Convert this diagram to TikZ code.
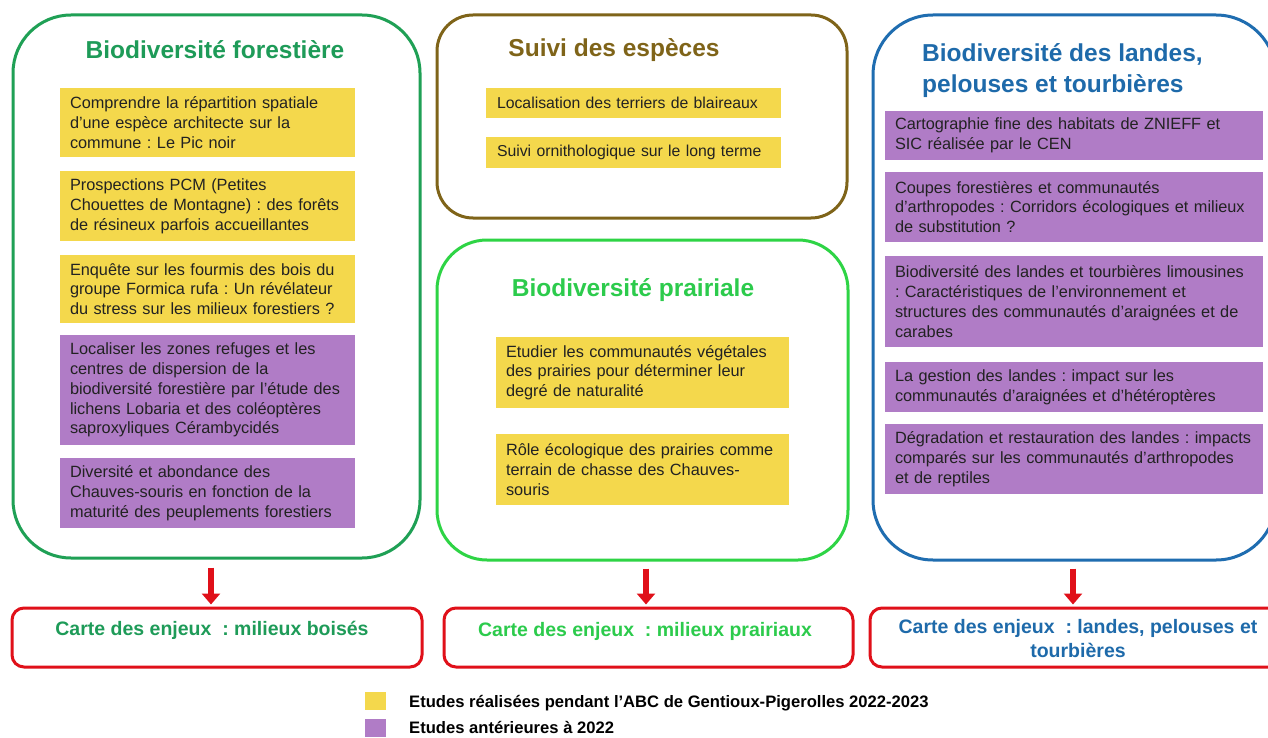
\documentclass[tikz,border=0pt]{standalone}
\usepackage{fontspec}
\setmainfont{Liberation Sans}
\usetikzlibrary{arrows.meta}
\frenchspacing
\definecolor{gforest}{HTML}{1FA055}
\definecolor{gforestT}{HTML}{1E9B58}
\definecolor{brownb}{HTML}{7F6419}
\definecolor{gbright}{HTML}{2ED445}
\definecolor{gbrightT}{HTML}{2CCB4C}
\definecolor{blueb}{HTML}{1F6DB0}
\definecolor{blueT}{HTML}{1E6AAA}
\definecolor{redb}{HTML}{E01019}
\definecolor{ybox}{HTML}{F4D84C}
\definecolor{pbox}{HTML}{B07CC6}
\definecolor{txt}{HTML}{222222}
\tikzset{
  bigbox/.style={draw=#1, line width=3pt, inner sep=0pt},
  item/.style={inner xsep=10pt, inner ysep=0pt, align=left, text=txt,
    font=\fontsize{16.3}{19.8}\selectfont},
  yel/.style={item, fill=ybox},
  pur/.style={item, fill=pbox},
  ttl/.style={font=\bfseries\fontsize{24.5}{31}\selectfont, inner sep=0pt},
  carte/.style={draw=redb, line width=3pt, rounded corners=12pt, inner sep=0pt},
  cartetxt/.style={font=\bfseries\fontsize{19.5}{24}\selectfont, inner sep=0pt, align=center},
  redarr/.style={draw=redb, line width=6pt, -{Triangle[length=11pt,width=18pt]}},
  legtxt/.style={font=\bfseries\fontsize{16.6}{19}\selectfont, inner sep=0pt, text=black},
}
\begin{document}
\begin{tikzpicture}[x=1pt,y=-1pt]
\useasboundingbox (0,0) rectangle (1268,738);
\clip (0,0) rectangle (1268,738);
\fill[white] (0,0) rectangle (1268,738);

% big boxes
\node[bigbox=gforest, rounded corners=58pt, minimum width=407, minimum height=543] (L) at (216.5,286.5) {};
\node[bigbox=brownb, rounded corners=36pt, minimum width=410, minimum height=203] (M1) at (642,116.5) {};
\node[bigbox=gbright, rounded corners=50pt, minimum width=411, minimum height=320] (M2) at (642.5,400) {};
\node[bigbox=blueb, rounded corners=60pt, minimum width=403, minimum height=545] (R) at (1074.5,287.5) {};

% titles
\node[ttl, text=gforestT, anchor=base] (tL) at (215,59) {Biodiversité forestière};
\node[ttl, text=brownb, anchor=base] (tM1) at (614,57) {Suivi des espèces};
\node[ttl, text=gbrightT, anchor=base] (tM2) at (633,296) {Biodiversité prairiale};
\node[ttl, text=blueT, anchor=west, align=left] (tR) at (922,71) {Biodiversité des landes,\\pelouses et tourbières};

% left column
\node[yel, text width=275, minimum height=69] (f1) at (207.5,122.5) {Comprendre la répartition spatiale\\d’une espèce architecte sur la\\commune : Le Pic noir};
\node[yel, text width=275, minimum height=70] (f2) at (207.5,206) {Prospections PCM (Petites\\Chouettes de Montagne) : des forêts\\de résineux parfois accueillantes};
\node[yel, text width=275, minimum height=68] (f3) at (207.5,289) {Enquête sur les fourmis des bois du\\groupe Formica rufa : Un révélateur\\du stress sur les milieux forestiers ?};
\node[pur, text width=275, minimum height=110] (f4) at (207.5,390) {Localiser les zones refuges et les\\centres de dispersion de la\\biodiversité forestière par l’étude des\\lichens Lobaria et des coléoptères\\saproxyliques Cérambycidés};
\node[pur, text width=275, minimum height=70] (f5) at (207.5,493) {Diversité et abondance des\\Chauves-souris en fonction de la\\maturité des peuplements forestiers};

% middle top
\node[yel, inner xsep=11pt, text width=273, minimum height=30, font=\fontsize{15.8}{19}\selectfont] (s1) at (633.5,103) {Localisation des terriers de blaireaux};
\node[yel, inner xsep=11pt, text width=273, minimum height=31, font=\fontsize{15.8}{19}\selectfont] (s2) at (633.5,152.5) {Suivi ornithologique sur le long terme};

% middle bottom
\node[yel, text width=273, minimum height=71] (p1) at (642.5,372.5) {Etudier les communautés végétales\\des prairies pour déterminer leur\\degré de naturalité};
\node[yel, text width=273, minimum height=71] (p2) at (642.5,469.5) {Rôle écologique des prairies comme\\terrain de chasse des Chauves-\\souris};

% right column
\node[pur, text width=358, minimum height=49] (r1) at (1074,135.5) {Cartographie fine des habitats de ZNIEFF et\\SIC réalisée par le CEN};
\node[pur, text width=358, minimum height=70] (r2) at (1074,207) {Coupes forestières et communautés\\d’arthropodes : Corridors écologiques et milieux\\de substitution ?};
\node[pur, text width=358, minimum height=91] (r3) at (1074,301.5) {Biodiversité des landes et tourbières limousines\\: Caractéristiques de l’environnement et\\structures des communautés d’araignées et de\\carabes};
\node[pur, text width=358, minimum height=50] (r4) at (1074,387) {La gestion des landes : impact sur les\\communautés d’araignées et d’hétéroptères};
\node[pur, text width=358, minimum height=70] (r5) at (1074,459) {Dégradation et restauration des landes : impacts\\comparés sur les communautés d’arthropodes\\et de reptiles};

% bottom boxes
\node[carte, minimum width=410, minimum height=59] (cL) at (217,637.5) {};
\node[carte, minimum width=409, minimum height=59] (cM) at (648.5,637.5) {};
\node[carte, minimum width=414, minimum height=59] (cR) at (1077,637.5) {};
\node[cartetxt, text=gforestT, anchor=base] (cLt) at (212,635) {Carte des enjeux~~: milieux boisés};
\node[cartetxt, text=gbrightT, anchor=base] (cMt) at (645,636) {Carte des enjeux~~: milieux prairiaux};
\node[cartetxt, text=blueT] (cRt) at (1078,639) {Carte des enjeux~~: landes, pelouses et\\tourbières};

% arrows
\draw[redarr] ([xshift=-5.5pt,yshift=-8pt]L.south) -- ([xshift=-6pt,yshift=2pt]cL.north);
\draw[redarr] ([xshift=3.5pt,yshift=-7pt]M2.south) -- ([xshift=-2.5pt,yshift=2pt]cM.north);
\draw[redarr] ([xshift=-1.5pt,yshift=-7pt]R.south) -- ([xshift=-4pt,yshift=2pt]cR.north);

% legend
\node[fill=ybox, minimum width=21, minimum height=18, inner sep=0pt] (ly) at (375.5,701) {};
\node[fill=pbox, minimum width=21, minimum height=18, inner sep=0pt] (lp) at (375.5,728) {};
\node[legtxt, anchor=base west] (lyt) at (409,707) {Etudes réalisées pendant l’ABC de Gentioux-Pigerolles 2022-2023};
\node[legtxt, anchor=base west] (lpt) at (409,733) {Etudes antérieures à 2022};
\end{tikzpicture}
\end{document}
